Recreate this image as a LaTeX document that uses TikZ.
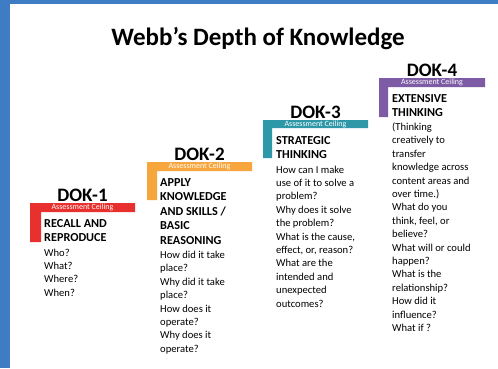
\documentclass[tikz,border=0pt]{standalone}
\usepackage{fontspec}
\setmainfont{Carlito}

\definecolor{frameblue}{HTML}{3E7CC3}
\definecolor{dokred}{HTML}{E8302E}
\definecolor{dokorange}{HTML}{F6A63C}
\definecolor{dokteal}{HTML}{2E97A8}
\definecolor{dokpurple}{HTML}{7D5BA5}

\tikzset{
  doklabel/.style={anchor=base, inner sep=0pt, font=\bfseries\fontsize{19}{22}\selectfont},
  ceiling/.style={text=white, inner sep=0pt, font=\fontsize{8}{9}\selectfont},
  % multi-line nodes: base sits on the last line
  heading/.style={anchor=base west, inner sep=0pt, align=left, font=\bfseries\fontsize{12.2}{14.5}\selectfont},
  questions/.style={anchor=base west, inner sep=0pt, align=left, font=\fontsize{10.6}{13.4}\selectfont},
}

\begin{document}
\begin{tikzpicture}[x=1pt,y=-1pt]
\useasboundingbox (0,0) rectangle (498,368);
% slide frame
\fill[white] (0,0) rectangle (498,368);
\fill[frameblue] (0,0) rectangle (498,4);
\fill[frameblue] (0,0) rectangle (10,368);
% title
\node (title) at (258,45) [anchor=base, font=\bfseries\fontsize{25}{30}\selectfont] {Webb’s Depth of Knowledge};
% steps
\fill[dokred] (30,203) -- (135,203) -- (135,212) -- (41,212) -- (41,242) -- (30,242) -- cycle;
\fill[dokorange] (147,162) -- (252,162) -- (252,171) -- (157,171) -- (157,200) -- (147,200) -- cycle;
\fill[dokteal] (263,120) -- (368,120) -- (368,128) -- (272,128) -- (272,158) -- (263,158) -- cycle;
\fill[dokpurple] (379,78) -- (485,78) -- (485,87) -- (388,87) -- (388,117) -- (379,117) -- cycle;
% level labels
\node (d1) at (82.5,201) [doklabel] {DOK-1};
\node (d2) at (199.5,160) [doklabel] {DOK-2};
\node (d3) at (315.5,118) [doklabel] {DOK-3};
\node (d4) at (432,76) [doklabel] {DOK-4};
% ceiling texts
\node (c1) at (82.5,207.5) [ceiling] {Assessment Ceiling};
\node (c2) at (199.5,166.5) [ceiling] {Assessment Ceiling};
\node (c3) at (315.5,124) [ceiling] {Assessment Ceiling};
\node (c4) at (432,82.5) [ceiling] {Assessment Ceiling};
% headings
\node (h1) at (44,241.5) [heading] {RECALL AND\\REPRODUCE};
\node (h2) at (160,244) [heading] {APPLY\\KNOWLEDGE\\AND SKILLS /\\BASIC\\REASONING};
\node (h3) at (276,158.5) [heading] {STRATEGIC\\THINKING};
\node (h4) at (392,116.5) [heading] {EXTENSIVE\\THINKING};
% questions
\node (q1) at (44,296.2) [questions] {Who?\\What?\\Where?\\When?};
\node (q2) at (160,352.3) [questions] {How did it take\\place?\\Why did it take\\place?\\How does it\\operate?\\Why does it\\operate?};
\node (q3) at (276,307) [questions] {How can I make\\use of it to solve a\\problem?\\Why does it solve\\the problem?\\What is the cause,\\effect, or, reason?\\What are the\\intended and\\unexpected\\outcomes?};
\node (q4) at (392,331.5) [questions] {(Thinking\\creatively to\\transfer\\knowledge across\\content areas and\\over time.)\\What do you\\think, feel, or\\believe?\\What will or could\\happen?\\What is the\\relationship?\\How did it\\influence?\\What if ?};
\end{tikzpicture}
\end{document}
